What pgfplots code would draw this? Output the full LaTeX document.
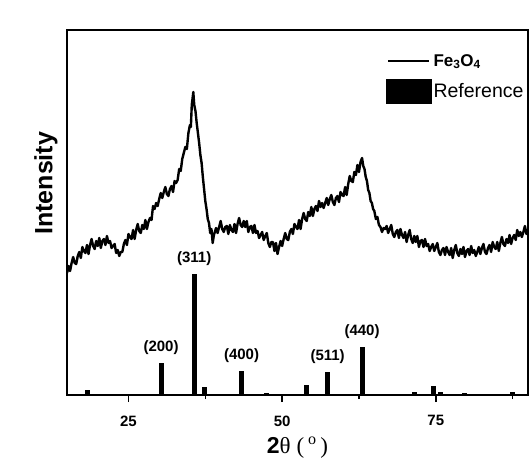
\documentclass[border=0pt]{standalone}
\usepackage{pgfplots}
\pgfplotsset{compat=1.18}
\usepackage{fontspec}
\setmainfont{Liberation Sans}
\newfontfamily\seriffont{Liberation Serif}

\begin{document}
\begin{tikzpicture}
\begin{axis}[
    scale only axis,
    width=461pt, height=365pt,
    xmin=15, xmax=90,
    ymin=0, ymax=365,
    ytick=\empty,
    xtick={25,50,75},
    minor xtick={37.5,62.5,87.5},
    tick align=outside,
    xtick pos=bottom,
    major tick length=7pt,
    minor tick length=4pt,
    every tick/.style={black, line width=1.5pt},
    axis line style={line width=1.5pt},
    /pgf/number format/assume math mode=true,
    xticklabel style={font=\fontsize{15}{17}\selectfont\bfseries, yshift=-10pt},
    xlabel={\fontsize{23}{26}\selectfont\textbf{2}{\seriffont θ (\,\textsuperscript{o}\,)}},
    xlabel style={yshift=-4pt},
    ylabel={\fontsize{25}{27}\selectfont\bfseries Intensity},
    ylabel style={at={(rel axis cs:0,0.58)}, yshift=6pt},
    legend style={draw=none, fill=none, at={(rel axis cs:0.684,0.945)}, anchor=north west,
        row sep=9pt, cells={anchor=west}},
]
\addplot[black, line width=2.4pt, line join=round,
    legend image code/.code={\draw[black, line width=1.5pt] (0pt,0pt) -- (41pt,0pt);}]
coordinates {
(15.0,122) (15.25,129) (15.5,124) (15.75,132) (16.0,138) (16.25,132) (16.5,131) (16.75,139)
(17.0,143) (17.25,137) (17.5,148) (17.75,144) (18.0,142) (18.25,150) (18.5,141) (18.75,150)
(19.0,156) (19.25,149) (19.5,146) (19.75,154) (20.0,149) (20.25,157) (20.5,147) (20.75,154)
(21.0,156) (21.25,150) (21.5,159) (21.75,152) (22.0,154) (22.25,147) (22.5,149) (22.75,151)
(23.0,142) (23.25,145) (23.5,139) (23.75,143) (24.0,143) (24.25,151) (24.5,155) (24.75,150)
(25.0,161) (25.25,158) (25.5,156) (25.75,165) (26.0,156) (26.25,165) (26.5,171) (26.75,164)
(27.0,162) (27.25,170) (27.5,166) (27.75,175) (28.0,166) (28.25,173) (28.5,177) (28.75,175)
(29.0,189) (29.25,186) (29.5,192) (29.75,189) (30.0,196) (30.25,202) (30.5,197) (30.75,203)
(31.0,208) (31.25,201) (31.5,199) (31.75,206) (32.0,209) (32.25,203) (32.5,214) (32.75,212)
(33.0,215) (33.25,226) (33.5,224) (33.75,236) (34.0,242) (34.25,248) (34.5,246) (34.75,262)
(35.0,270) (35.15,268) (35.3,290) (35.55,303) (35.7,290) (35.9,284) (36.1,272) (36.3,262)
(36.5,252) (36.7,240) (36.9,232) (37.1,218) (37.3,206) (37.5,194) (37.7,186) (37.9,176)
(38.1,172) (38.3,162) (38.5,166) (38.7,152) (38.9,160)
(39.0,162) (39.25,167) (39.5,162) (39.75,168) (40.0,174) (40.25,166) (40.5,163) (40.75,168)
(41.0,169) (41.25,161) (41.5,170) (41.75,165) (42.0,163) (42.25,171) (42.5,162) (42.75,171)
(43.0,177) (43.25,170) (43.5,168) (43.75,174) (44.0,168) (44.25,174) (44.5,163) (44.75,168)
(45.0,169) (45.25,162) (45.5,170) (45.75,162) (46.0,164) (46.25,157) (46.5,160) (46.75,163)
(47.0,155) (47.25,159) (47.5,162) (47.75,152) (48.0,148) (48.25,153) (48.5,153) (48.75,144)
(49.0,152) (49.25,141)
(49.5,148) (49.75,154) (50.0,149) (50.25,156) (50.5,162) (50.75,156) (51.0,155) (51.25,163)
(51.5,166) (51.75,161) (52.0,171) (52.25,168) (52.5,166) (52.75,175) (53.0,166) (53.25,176)
(53.5,182) (53.75,176) (54.0,174) (54.25,183) (54.5,179) (54.75,188) (55.0,179) (55.25,186)
(55.5,189) (55.75,184) (56.0,194) (56.25,188) (56.5,192) (56.75,187) (57.0,192) (57.25,197)
(57.5,190) (57.75,196) (58.0,200) (58.25,193) (58.5,190) (58.75,197) (59.0,199) (59.25,193)
(59.5,203) (59.75,200) (60.0,199) (60.25,208) (60.5,200) (60.75,211) (61.0,219) (61.25,214)
(61.5,213) (61.75,223) (62.0,220) (62.25,230) (62.5,223) (62.75,233) (63.0,237)
(63.2,229) (63.4,226) (63.6,218) (63.8,214) (64.0,205) (64.2,202) (64.4,194) (64.6,192)
(64.8,186) (65.0,184) (65.25,176) (65.5,178) (65.75,170) (66.0,168) (66.25,163) (66.5,167)
(66.75,166) (67.0,169) (67.25,162) (67.5,166) (67.75,170) (68.0,161) (68.25,158) (68.5,163)
(68.75,165) (69.0,157) (69.25,166) (69.5,160) (69.75,157) (70.0,163) (70.25,153) (70.5,160)
(70.75,165) (71.0,156) (71.25,152) (71.5,159) (71.75,153) (72.0,159) (72.25,148) (72.5,154)
(72.75,155) (73.0,148) (73.25,156) (73.5,149) (73.75,151) (74.0,144) (74.25,148) (74.5,151)
(74.75,144) (75.0,148) (75.25,152) (75.5,143) (75.75,140) (76.0,145) (76.25,147) (76.5,140)
(76.75,148) (77.0,143) (77.25,140) (77.5,147) (77.75,137) (78.0,145) (78.25,150) (78.5,142)
(78.75,139) (79.0,146) (79.25,141) (79.5,148) (79.75,138) (80.0,144) (80.25,146) (80.5,140)
(80.75,149) (81.0,142) (81.25,145) (81.5,139) (81.75,143) (82.0,148) (82.25,141) (82.5,147)
(82.75,151) (83.0,143) (83.25,141) (83.5,147) (83.75,150) (84.0,143) (84.25,153) (84.5,148)
(84.75,146) (85.0,153) (85.25,144) (85.5,152) (85.75,158) (86.0,151) (86.25,149) (86.5,156)
(86.75,152) (87.0,160) (87.25,151) (87.5,157) (87.75,160) (88.0,155) (88.25,165) (88.5,159)
(88.75,163) (89.0,158) (89.25,163) (89.5,169) (89.75,161) (90.0,164)
};
\addlegendentry{\fontsize{17}{19}\selectfont\textbf{Fe\textsubscript{3}O\textsubscript{4}}}
\addplot[ycomb, black, line width=5pt, mark=none,
    legend image code/.code={\fill[black] (0pt,-10pt) rectangle (41pt,10pt);}]
coordinates {
(18.4,5) (30.3,32) (35.7,121) (37.3,8) (43.4,24) (47.5,2) (53.9,10)
(57.4,23) (63.0,48) (71.6,3) (74.6,9) (75.7,3) (79.6,2) (87.5,3)
};
\addlegendentry{\fontsize{19.5}{21}\selectfont Reference}
\foreach \px/\py/\lab in {30.3/32/(200), 35.7/121/(311), 43.4/24/(400), 57.4/23/(511), 63.0/48/(440)} {
  \edef\temp{\noexpand\node[anchor=south, inner sep=0pt, yshift=8pt,
     font=\noexpand\fontsize{15}{17}\noexpand\selectfont\noexpand\bfseries]
     at (axis cs:\px,\py) {\lab};}
  \temp
}
\end{axis}
\path[use as bounding box] (current axis.south west) ++(-67pt,-62pt) rectangle
  ([xshift=3pt,yshift=30pt]current axis.north east);
\end{tikzpicture}
\end{document}
